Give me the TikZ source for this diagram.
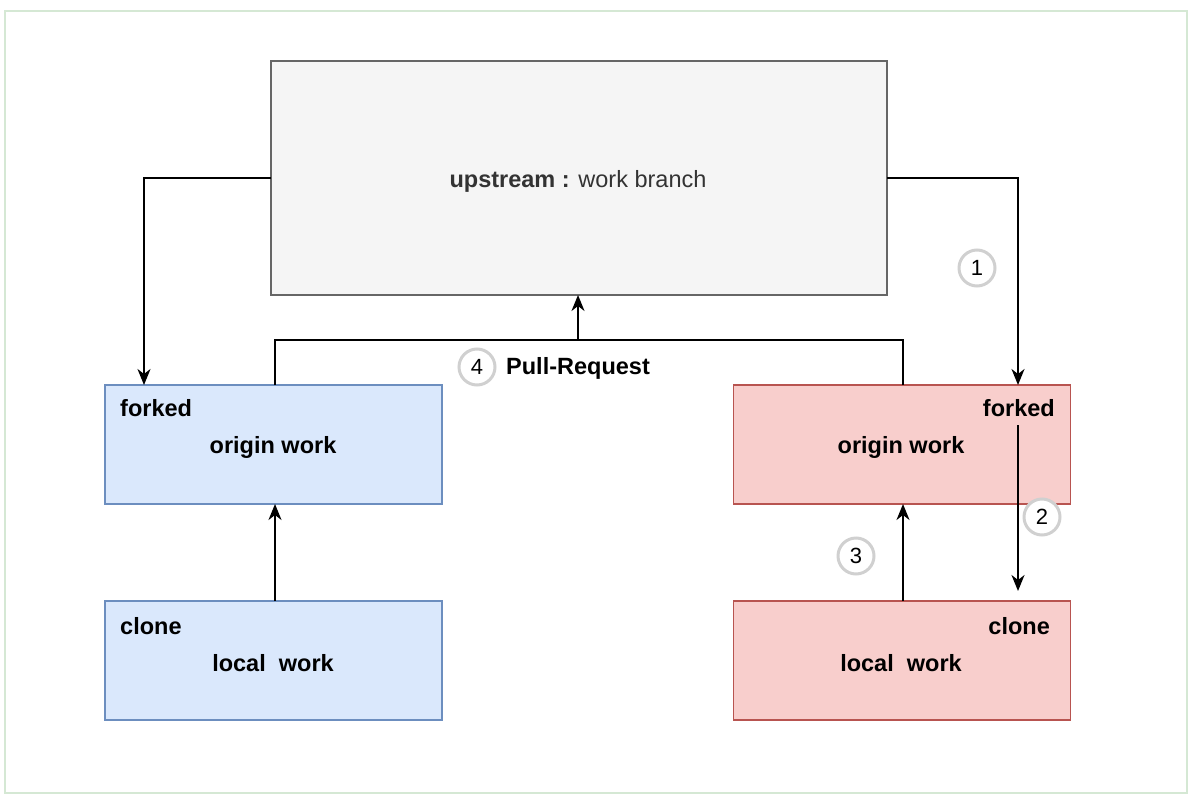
\documentclass[tikz,border=0pt]{standalone}
\usepackage{fontspec}
\setmainfont{Liberation Sans}
\usetikzlibrary{arrows.meta}
\definecolor{frameg}{HTML}{D5E8D4}
\definecolor{upfill}{HTML}{F5F5F5}
\definecolor{updraw}{HTML}{666666}
\definecolor{bfill}{HTML}{DAE8FC}
\definecolor{bdraw}{HTML}{6C8EBF}
\definecolor{rfill}{HTML}{F8CECC}
\definecolor{rdraw}{HTML}{B85450}
\definecolor{cgray}{HTML}{D0D0D0}
\definecolor{txt}{HTML}{333333}
\tikzset{
  box/.style={draw, line width=1.6pt, minimum width=337pt, minimum height=119pt, inner sep=0pt},
  bluebox/.style={box, fill=bfill, draw=bdraw},
  redbox/.style={box, fill=rfill, draw=rdraw},
  conn/.style={line width=1.9pt, -{Stealth[length=16pt,width=13pt,inset=5pt]}},
  plain/.style={line width=1.9pt},
  num/.style={circle, draw=cgray, line width=3pt, fill=white, minimum size=36pt, inner sep=0pt, font=\fontsize{22}{26}\selectfont},
  lbl/.style={font=\fontsize{23.5}{28}\selectfont\bfseries, inner sep=0pt},
}
\begin{document}
\begin{tikzpicture}[x=1pt,y=-1pt]
\useasboundingbox (0,0) rectangle (1196,800);
\draw[frameg, line width=2pt] (5,11) rectangle (1187,793);
% upstream
\node[draw=updraw, fill=upfill, line width=1.6pt, minimum width=616pt, minimum height=234pt, inner sep=0pt] (up) at (579,178) {};
\node[font=\fontsize{23.5}{28}\selectfont, text=txt, inner sep=0pt] (uptxt) at (578,181) {\textbf{upstream :} work branch};
% boxes
\node[bluebox] (lf) at (273.5,444.5) {};
\node[bluebox] (lc) at (273.5,660.5) {};
\node[redbox] (rf) at (902,444.5) {};
\node[redbox] (rc) at (902,660.5) {};
% labels
\node[lbl, anchor=base west] (lft) at (120,416) {forked};
\node[lbl] (lfo) at (273,447) {origin work};
\node[lbl, anchor=base west] (lct) at (120,634) {clone};
\node[lbl] (lco) at (273,663) {local\ \ work};
\node[lbl, anchor=base east] (rft) at (1055,416) {forked};
\node[lbl] (rfo) at (901,447) {origin work};
\node[lbl, anchor=base east] (rct) at (1050,634) {clone};
\node[lbl] (rco) at (901,663) {local\ \ work};
% connectors
\coordinate (ul) at (271,178);
\coordinate (ur) at (887,178);
\draw[conn] (ul) -| (144,385);
\draw[conn] (ur) -| (1018,385);
\coordinate (pl) at (275,385);
\coordinate (pr) at (903,385);
\coordinate (pm) at (578,340);
\draw[plain] (pl) |- (pm) -| (pr);
\draw[conn] (pm) -- (578,295);
\draw[conn] (275,601) -- (275,504);
\draw[conn] (903,601) -- (903,504);
\coordinate (a2s) at (1018,425);
\coordinate (a2e) at (1018,591);
\draw[conn] (a2s) -- (a2e);
% numbers
\node[num] (n1) at (977,268) {1};
\node[num] (n2) at (1042,517) {2};
\node[num] (n3) at (856,556) {3};
\node[num] (n4) at (477,367) {4};
\node[lbl, anchor=west] (pr4) at (506,368) {Pull-Request};
\end{tikzpicture}
\end{document}
